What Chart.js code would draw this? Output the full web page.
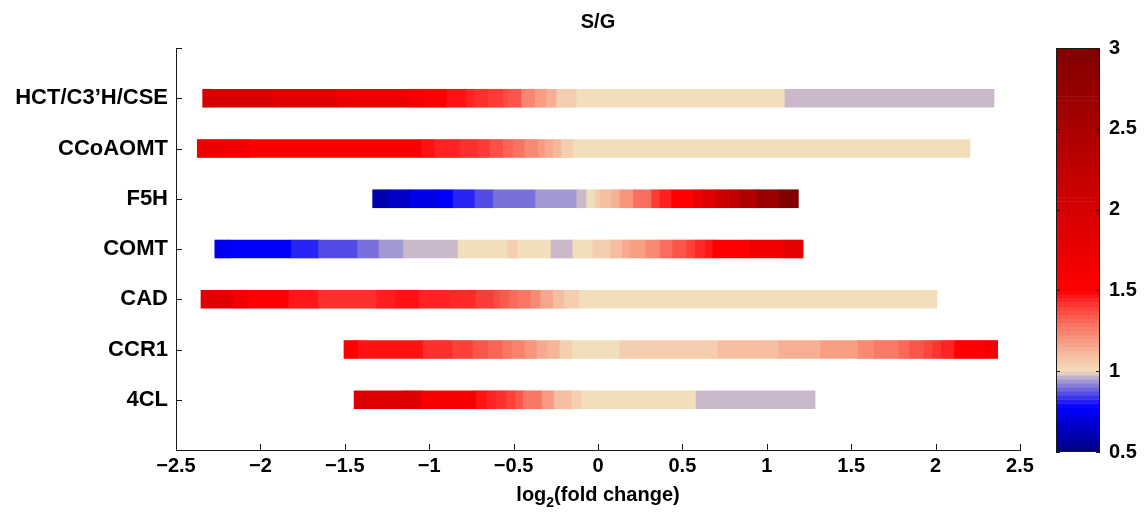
<!DOCTYPE html>
<html lang="en">
<head>
<meta charset="UTF-8">
<title>S/G</title>
<script src="https://cdn.jsdelivr.net/npm/chart.js"></script>
<style>
  body { margin: 0; background: #fff; }
  #wrap { position: relative; width: 1145px; height: 513px; }
  #main { position: absolute; left: 0; top: 0; }
  #cbar { position: absolute; left: 1045px; top: 0; }
</style>
</head>
<body>
<div id="wrap">
  <canvas id="main" width="1045" height="513"></canvas>
  <canvas id="cbar" width="100" height="513"></canvas>
</div>
<script>
// genes, top to bottom
const genes = ['HCT/C3\u2019H/CSE', 'CCoAOMT', 'F5H', 'COMT', 'CAD', 'CCR1', '4CL'];

// segment edges on the log2(fold change) axis, and the S/G value of each segment
const hctEdges = [-2.342, -2.279, -1.924, -1.548, -1.124, -1.035, -0.896, -0.778, -0.729, -0.650, -0.561, -0.531, -0.452, -0.373, -0.304, -0.245, -0.126, 1.108, 2.346];
const hctSG    = [1.98, 1.92, 1.85, 1.72, 1.62, 1.52, 1.47, 1.44, 1.42, 1.40, 1.37, 1.35, 1.24, 1.18, 1.14, 1.05, 1.0, 0.97];

const ccoaomtEdges = [-2.374, -2.220, -2.062, -1.044, -0.966, -0.818, -0.709, -0.640, -0.561, -0.502, -0.433, -0.354, -0.314, -0.265, -0.215, -0.146, 2.204];
const ccoaomtSG    = [1.74, 1.65, 1.56, 1.47, 1.44, 1.42, 1.40, 1.36, 1.32, 1.29, 1.23, 1.19, 1.15, 1.11, 1.05, 1.0];

const f5hEdges = [-1.335, -1.242, -1.114, -0.946, -0.857, -0.729, -0.620, -0.369, -0.126, -0.067, -0.018, 0.012, 0.081, 0.130, 0.209, 0.318, 0.367, 0.437, 0.565, 0.624, 0.703, 0.782, 0.841, 0.940, 1.078, 1.187];
const f5hSG    = [0.60, 0.66, 0.72, 0.77, 0.82, 0.86, 0.90, 0.94, 0.97, 1.0, 1.05, 1.10, 1.13, 1.20, 1.30, 1.40, 1.45, 1.50, 1.74, 1.91, 2.09, 2.27, 2.44, 2.68, 3.0];

const comtEdges = [-2.270, -2.185, -1.816, -1.655, -1.424, -1.297, -1.152, -0.829, -0.537, -0.475, -0.278, -0.149, -0.030, 0.074, 0.143, 0.190, 0.281, 0.369, 0.443, 0.524, 0.576, 0.638, 0.680, 0.892, 1.100, 1.215];
const comtSG    = [0.74, 0.77, 0.82, 0.86, 0.90, 0.94, 0.97, 1.0, 1.05, 1.0, 0.97, 1.0, 1.05, 1.10, 1.15, 1.18, 1.23, 1.30, 1.35, 1.39, 1.43, 1.46, 1.50, 1.65, 1.80];

const cadEdges = [-2.352, -2.161, -2.072, -1.831, -1.657, -1.311, -1.197, -1.059, -0.867, -0.723, -0.616, -0.581, -0.525, -0.478, -0.399, -0.339, -0.265, -0.201, -0.111, 2.008];
const cadSG    = [1.85, 1.68, 1.51, 1.46, 1.42, 1.45, 1.47, 1.44, 1.43, 1.40, 1.37, 1.34, 1.31, 1.28, 1.23, 1.16, 1.10, 1.05, 1.0];

const ccr1Edges = [-1.505, -1.421, -1.036, -0.861, -0.740, -0.650, -0.565, -0.509, -0.432, -0.362, -0.298, -0.226, -0.154, 0.129, 0.711, 1.071, 1.320, 1.541, 1.636, 1.783, 1.847, 1.932, 1.983, 2.034, 2.112, 2.278, 2.368];
const ccr1SG    = [1.52, 1.47, 1.42, 1.39, 1.35, 1.32, 1.28, 1.25, 1.20, 1.15, 1.12, 1.05, 1.0, 1.05, 1.10, 1.14, 1.18, 1.23, 1.27, 1.31, 1.35, 1.38, 1.41, 1.44, 1.50, 1.62];

const cl4Edges = [-1.445, -1.133, -1.044, -0.719, -0.659, -0.600, -0.541, -0.486, -0.443, -0.330, -0.259, -0.156, -0.097, 0.581, 1.286];
const cl4SG    = [1.90, 1.85, 1.60, 1.47, 1.44, 1.42, 1.39, 1.35, 1.28, 1.19, 1.10, 1.05, 1.0, 0.97];

const rows = [
  [hctEdges, hctSG], [ccoaomtEdges, ccoaomtSG], [f5hEdges, f5hSG], [comtEdges, comtSG],
  [cadEdges, cadSG], [ccr1Edges, ccr1SG], [cl4Edges, cl4SG]
];

// colour map for S/G (blue below 1, wheat at 1, red above)
const cmapStops  = [0.5, 0.78, 0.82, 0.86, 0.90, 0.94, 0.97, 1.0, 1.05, 1.10, 1.15, 1.20, 1.25, 1.30, 1.35, 1.40, 1.45, 1.5, 3.0];
const cmapColors = [
  [0, 0, 128], [0, 0, 255], [40, 35, 245], [82, 75, 230], [122, 112, 220], [162, 152, 212], [201, 185, 203],
  [243, 222, 187], [245, 205, 175], [245, 190, 160], [246, 170, 145], [247, 150, 125], [248, 130, 110],
  [250, 110, 95], [252, 85, 75], [254, 60, 55], [255, 30, 30], [255, 0, 0], [128, 0, 0]
];
const sgMin = 0.5, sgMax = 3;
const sgTicks = [0.5, 1, 1.5, 2, 2.5, 3];

function sgColor(v) {
  v = Math.min(sgMax, Math.max(sgMin, v));
  let i = 0;
  while (i < cmapStops.length - 2 && v > cmapStops[i + 1]) i++;
  const t = (v - cmapStops[i]) / (cmapStops[i + 1] - cmapStops[i]);
  const a = cmapColors[i], b = cmapColors[i + 1];
  const c = a.map((ch, k) => Math.round(ch + (b[k] - ch) * t));
  return `rgb(${c[0]},${c[1]},${c[2]})`;
}

const FONT = "'Liberation Sans', Arial, sans-serif";
Chart.defaults.font.family = FONT;
Chart.defaults.font.weight = 'bold';
Chart.defaults.font.size = 20;
Chart.defaults.color = '#000';

// MATLAB-style ticks pointing into the plot area
const inwardTicks = {
  id: 'inwardTicks',
  afterDraw(chart, args, opts) {
    const { ctx, chartArea: a } = chart;
    const len = opts.len || 6;
    ctx.save();
    ctx.strokeStyle = '#1a1a1a';
    ctx.lineWidth = 1;
    ctx.beginPath();
    if (opts.box) {
      ctx.rect(a.left + 0.5, a.top + 0.5, a.right - a.left - 1, a.bottom - a.top - 1);
    }
    (opts.x ? chart.scales.x.ticks : []).forEach(t => {
      const p = Math.round(chart.scales.x.getPixelForValue(t.value)) + 0.5;
      ctx.moveTo(p, a.bottom); ctx.lineTo(p, a.bottom - len);
    });
    (opts.y ? chart.scales.y.ticks : []).forEach(t => {
      const p = Math.round(chart.scales.y.getPixelForValue(t.value)) + 0.5;
      if (opts.left !== false) { ctx.moveTo(a.left, p); ctx.lineTo(a.left + len, p); }
      if (opts.right) { ctx.moveTo(a.right, p); ctx.lineTo(a.right - len, p); }
    });
    ctx.stroke();
    ctx.restore();
  }
};

// x-axis label with a real subscript 2, centred under the plot area
const xLabel = {
  id: 'xLabel',
  afterDraw(chart) {
    const { ctx, chartArea: a } = chart;
    const big = 'bold 20px ' + FONT, small = 'bold 14px ' + FONT;
    const parts = [['log', big, 0], ['2', small, 6], ['(fold change)', big, 0]];
    ctx.save();
    ctx.fillStyle = '#000';
    ctx.textBaseline = 'alphabetic';
    let w = 0;
    parts.forEach(([t, f]) => { ctx.font = f; w += ctx.measureText(t).width; });
    let x = (a.left + a.right) / 2 - w / 2;
    const base = 501;
    parts.forEach(([t, f, dy]) => {
      ctx.font = f;
      ctx.fillText(t, x, base + dy);
      x += ctx.measureText(t).width;
    });
    ctx.restore();
  }
};

const datasets = rows.map(([edges, sg], i) => ({
  data: sg.map((v, k) => ({ x: [edges[k], edges[k + 1]], y: i + 1 })),
  backgroundColor: sg.map(sgColor),
  borderWidth: 0,
  barThickness: 18,
  grouped: false
}));

const fmt = v => (v < 0 ? '\u2212' + Math.abs(v) : String(v));

new Chart(document.getElementById('main'), {
  type: 'bar',
  data: { datasets },
  options: {
    indexAxis: 'y',
    responsive: false,
    animation: false,
    layout: { padding: { left: 0, right: 25, top: 0, bottom: 0 } },
    plugins: {
      legend: { display: false },
      tooltip: { enabled: false },
      title: {
        display: true, text: 'S/G', fullSize: false,
        font: { size: 20, weight: 'bold' }, color: '#000',
        padding: { top: 10, bottom: 14 }
      },
      inwardTicks: { x: true, y: true, len: 6 }
    },
    scales: {
      x: {
        type: 'linear', min: -2.5, max: 2.5, offset: false,
        ticks: { stepSize: 0.5, padding: 4, callback: fmt, maxRotation: 0 },
        grid: { display: false, drawTicks: false },
        border: { display: true, color: '#1a1a1a', width: 1 },
        afterFit: s => { s.height = 63; }
      },
      y: {
        type: 'linear', min: 0, max: 8, reverse: true, offset: false,
        afterBuildTicks: s => { s.ticks = [0, 1, 2, 3, 4, 5, 6, 7].map(v => ({ value: v })); },
        ticks: { autoSkip: false, padding: 8, font: { size: 22 }, callback: v => genes[v - 1] || '' },
        grid: { display: false, drawTicks: false, offset: false },
        border: { display: true, color: '#1a1a1a', width: 1 },
        afterFit: s => { s.width = 176; }
      }
    }
  },
  plugins: [inwardTicks, xLabel]
});

// colour bar: the colour map drawn as thin stacked steps from 0.5 to 3
const cbSteps = 100;
const cbData = [], cbColors = [];
for (let k = 0; k < cbSteps; k++) {
  const lo = sgMin + (sgMax - sgMin) * k / cbSteps;
  const hi = sgMin + (sgMax - sgMin) * (k + 1) / cbSteps;
  cbData.push({ x: 0, y: [lo, hi] });
  cbColors.push(sgColor((lo + hi) / 2));
}

new Chart(document.getElementById('cbar'), {
  type: 'bar',
  data: { datasets: [{ data: cbData, backgroundColor: cbColors, borderWidth: 0, barThickness: 44, grouped: false }] },
  options: {
    responsive: false,
    animation: false,
    layout: { padding: { left: 11, right: 0, top: 48, bottom: 61 } },
    plugins: {
      legend: { display: false },
      tooltip: { enabled: false },
      inwardTicks: { y: true, left: true, right: true, box: true, len: 4 }
    },
    scales: {
      x: { type: 'linear', min: -0.5, max: 0.5, offset: false, display: false },
      y: {
        type: 'linear', position: 'right', min: sgMin, max: sgMax,
        afterBuildTicks: s => { s.ticks = sgTicks.map(v => ({ value: v })); },
        ticks: { padding: 9, callback: v => String(v) },
        grid: { display: false, drawTicks: false },
        border: { display: false },
        afterFit: s => { s.width = 45; }
      }
    }
  },
  plugins: [inwardTicks]
});
</script>
</body>
</html>
